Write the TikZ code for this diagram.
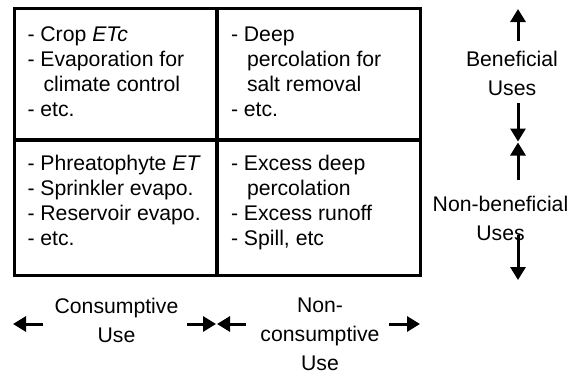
\documentclass[tikz,border=0pt]{standalone}
\usepackage{fontspec}
\setmainfont{Liberation Sans}
\usetikzlibrary{positioning, arrows.meta, calc}
\tikzstyle{usecell} =[draw, line width=3.3pt, outer sep=0pt, minimum width=202.5pt]
\tikzstyle{celltext} =[anchor=base west, align=left, inner sep=0pt, font=\fontsize{21.2}{25}\selectfont]
\tikzstyle{uselabel} =[anchor=base, align=center, inner sep=0pt, font=\fontsize{21.2}{29}\selectfont]
\tikzstyle{bigarrow} =[-{Triangle[width=15pt,length=13pt]}, line width=3pt]

\begin{document}
\begin{tikzpicture}[x=1pt, y=-1pt]
\useasboundingbox (0,0) rectangle (583,386);

\node (consBen) [usecell, minimum height=131pt, anchor=north west] at (14.3,8.7) {};
\node (nonconsBen) [usecell, minimum height=131pt, right=1pt of consBen] {};
\node (consNonben) [usecell, minimum height=135pt, below=1pt of consBen] {};
\node (nonconsNonben) [usecell, minimum height=135pt, below=1pt of nonconsBen] {};

% base = baseline of the last line
\node (consBenText) [celltext] at ($(consBen.north west)+(13,107.5)$)
	{- Crop \textit{ETc}\\- Evaporation for\\\hspace*{16pt}climate control\\- etc.};
\node (nonconsBenText) [celltext] at ($(nonconsBen.north west)+(13,107.5)$)
	{- Deep\\\hspace*{16pt}percolation for\\\hspace*{16pt}salt removal\\- etc.};
\node (consNonbenText) [celltext] at ($(consNonben.north west)+(13,104.5)$)
	{- Phreatophyte \textit{ET}\\- Sprinkler evapo.\\- Reservoir evapo.\\- etc.};
\node (nonconsNonbenText) [celltext] at ($(nonconsNonben.north west)+(13,104.5)$)
	{- Excess deep\\\hspace*{16pt}percolation\\- Excess runoff\\- Spill, etc};

\node (benLabel) [uselabel] at (512,95) {Beneficial\\Uses};
\node (nonbenLabel) [uselabel] at (500.5,240) {Non-beneficial\\Uses};
\node (consLabel) [uselabel] at (116.5,342) {Consumptive\\Use};
\node (nonconsLabel) [uselabel] at (320,370) {Non-\\consumptive\\Use};

% arrow ends
\coordinate (benTail) at (518,41);
\coordinate (benTip) at (518,9);
\coordinate (benMidTail) at (518,103);
\coordinate (benMidTip) at (518,141.5);
\coordinate (nonbenMidTail) at (518,180);
\coordinate (nonbenMidTip) at (518,142.5);
\coordinate (nonbenTail) at (518,235);
\coordinate (nonbenTip) at (518,280);

\coordinate (consLeftTail) at (43,324);
\coordinate (consLeftTip) at (13,324);
\coordinate (consRightTail) at (187,324);
\coordinate (consRightTip) at (216,324);
\coordinate (nonconsLeftTail) at (246,324);
\coordinate (nonconsLeftTip) at (217,324);
\coordinate (nonconsRightTail) at (389,324);
\coordinate (nonconsRightTip) at (420,324);

\draw[bigarrow] (benTail) -- (benTip);
\draw[bigarrow] (benMidTail) -- (benMidTip);
\draw[bigarrow] (nonbenMidTail) -- (nonbenMidTip);
\draw[bigarrow] (nonbenTail) -- (nonbenTip);
\draw[bigarrow] (consLeftTail) -- (consLeftTip);
\draw[bigarrow] (consRightTail) -- (consRightTip);
\draw[bigarrow] (nonconsLeftTail) -- (nonconsLeftTip);
\draw[bigarrow] (nonconsRightTail) -- (nonconsRightTip);
\end{tikzpicture}
\end{document}
